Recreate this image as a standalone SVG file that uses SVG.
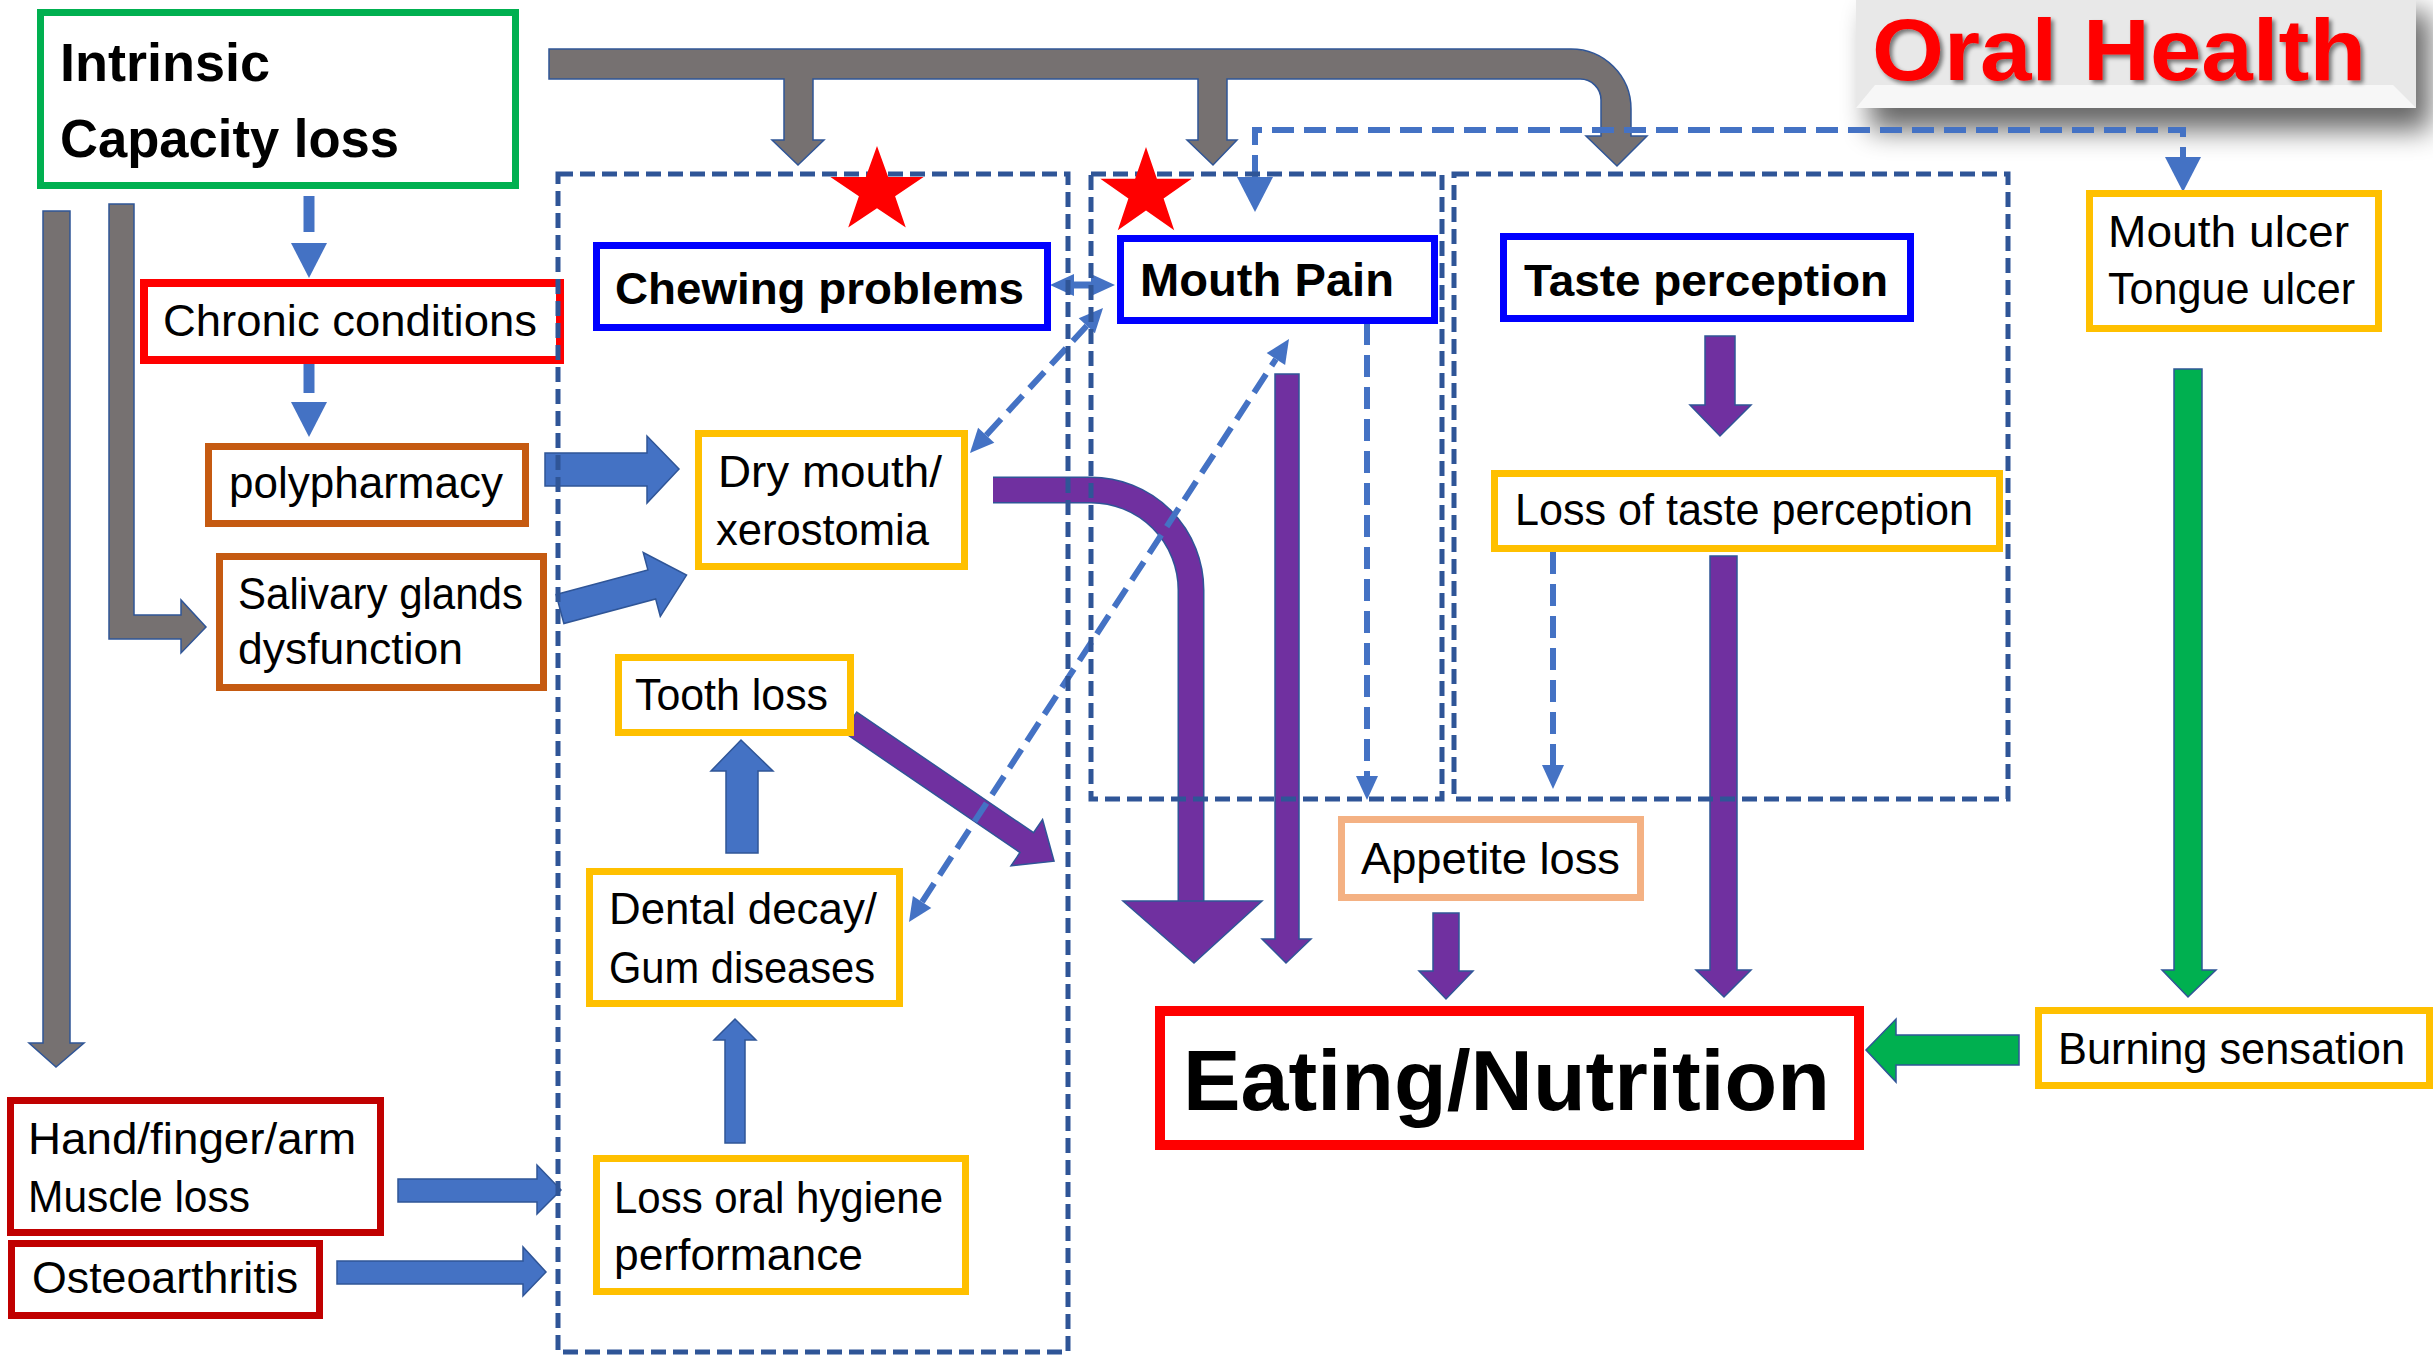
<svg xmlns="http://www.w3.org/2000/svg" width="2433" height="1355" viewBox="0 0 2433 1355">
<style>
text{font-family:"Liberation Sans",Arial,sans-serif;fill:#000;}
.t{font-size:44px;}
.b{font-weight:bold;}
.box{fill:#fff;}
.gray{fill:#767171;stroke:#2F5597;stroke-width:1.5;}
.blue{fill:#4472C4;stroke:#2F5597;stroke-width:1.5;}
.purple{fill:#7030A0;stroke:#2F5597;stroke-width:1.5;}
.green{fill:#00B050;stroke:#2F5597;stroke-width:1.5;}
.dash{fill:none;stroke:#4472C4;stroke-width:6;stroke-dasharray:22 10;}
.grp{fill:none;stroke:#2F5597;stroke-width:5;stroke-dasharray:15 7;}
.star{fill:#FF0000;}
</style>
<defs>
<marker id="dh" viewBox="0 0 24 22" refX="0" refY="11" markerWidth="24" markerHeight="22" markerUnits="userSpaceOnUse" orient="auto-start-reverse" overflow="visible"><path d="M0,0 L24,11 L0,22 Z" fill="#4472C4"/></marker>
<marker id="dhL" viewBox="0 0 35 36" refX="0" refY="18" markerWidth="35" markerHeight="36" markerUnits="userSpaceOnUse" orient="auto-start-reverse" overflow="visible"><path d="M0,0 L35,18 L0,36 Z" fill="#4472C4"/></marker>
<filter id="boxShadow" x="-20%" y="-50%" width="150%" height="250%">
<feGaussianBlur in="SourceAlpha" stdDeviation="14"/>
<feOffset dx="14" dy="22" result="o"/>
<feComponentTransfer><feFuncA type="linear" slope="0.6"/></feComponentTransfer>
<feMerge><feMergeNode/><feMergeNode in="SourceGraphic"/></feMerge>
</filter>
<filter id="txtShadow" x="-5%" y="-20%" width="110%" height="150%">
<feGaussianBlur in="SourceAlpha" stdDeviation="2"/>
<feOffset dx="3" dy="3"/>
<feComponentTransfer><feFuncA type="linear" slope="0.5"/></feComponentTransfer>
<feMerge><feMergeNode/><feMergeNode in="SourceGraphic"/></feMerge>
</filter>
</defs>
<rect width="2433" height="1355" fill="#fff"/>

<g id="title">
<g filter="url(#boxShadow)">
<rect x="1856" y="-10" width="560" height="118" fill="#E8E8E8"/>
</g>
<polygon points="1856,108 2416,108 2393,85 1875,85" fill="#F7F7F7"/>
<text x="1872" y="80" font-size="88" font-weight="bold" style="fill:#FF0000" textLength="494" lengthAdjust="spacingAndGlyphs" filter="url(#txtShadow)">Oral Health</text>
</g>

<g id="connectors">
<path class="gray" d="M549,49 H1571 A60,60 0 0 1 1631,109 V136 H1647 L1617,166 L1586,136 H1601 V100 A21,21 0 0 0 1580,79 H1227 V140 H1237 L1213,165 L1187,140 H1198 V79 H813 V140 H824 L798,165 L772,140 H784 V79 H549 Z"/>
<path class="gray" d="M43,211 H70 V1043 H84 L56,1067 L29,1043 H43 Z"/>
<path class="gray" d="M109,204 H134 V615 H181 V600 L206,627 L181,653 V639 H109 Z"/>
<path class="blue" d="M545,453 H647 V436 L679,469 L647,503 V486 H545 Z"/>
<path class="blue" transform="translate(560,609) rotate(-15)" d="M0,-15 H95 V-33 L131,0 L95,33 V15 H0 Z"/>
<path class="blue" d="M398,1179 H537 V1165 L561,1190 L537,1214 V1202 H398 Z"/>
<path class="blue" d="M337,1261 H523 V1247 L546,1272 L523,1296 V1284 H337 Z"/>
<path class="blue" d="M726,853 V771 H711 L741,740 L773,771 H758 V853 Z"/>
<path class="blue" d="M725,1143 V1040 H714 L735,1019 L756,1040 H745 V1143 Z"/>
<path d="M993,490 H1091 A100,100 0 0 1 1191,590 V902" fill="none" stroke="#2F5597" stroke-width="27"/>
<path d="M993,490 H1091 A100,100 0 0 1 1191,590 V903" fill="none" stroke="#7030A0" stroke-width="24"/>
<path class="purple" d="M1123,901 L1262,901 L1194,963 Z"/>
<path class="purple" d="M1275,374 H1299 V939 H1311 L1286,963 L1262,939 H1275 Z"/>
<path class="purple" d="M1705,336 H1735 V405 H1751 L1720,436 L1690,405 H1705 Z"/>
<path class="purple" d="M1710,556 H1737 V970 H1751 L1724,997 L1696,970 H1710 Z"/>
<path class="purple" d="M1433,913 H1459 V971 H1473 L1446,999 L1419,971 H1433 Z"/>
<path class="purple" transform="translate(850,722) rotate(34.3)" d="M0,-12 H214 V-28 L247,0 L214,28 V12 H0 Z"/>
<path class="green" d="M2174,369 H2202 V970 H2216 L2188,997 L2162,970 H2174 Z"/>
<path class="green" d="M2019,1035 V1065 H1896 V1082 L1866,1050 L1896,1019 V1035 Z"/>
<path d="M309,196 V243" fill="none" stroke="#4472C4" stroke-width="11" stroke-dasharray="36 14" marker-end="url(#dhL)"/>
<path d="M309,357 V402" fill="none" stroke="#4472C4" stroke-width="11" stroke-dasharray="36 14" marker-end="url(#dhL)"/>
<path class="dash" d="M1255,177 V130 H2183 V157" marker-start="url(#dhL)" marker-end="url(#dhL)"/>
<path d="M1074,285 H1091" fill="none" stroke="#4472C4" stroke-width="7" marker-start="url(#dh)" marker-end="url(#dh)"/>
<path class="dash" d="M986.2,435.3 L1086.8,325.7" marker-start="url(#dh)" marker-end="url(#dh)"/>
<path class="dash" d="M922.1,901.9 L1275.9,359.1" marker-start="url(#dh)" marker-end="url(#dh)"/>
<path class="dash" d="M1367,323 V776" marker-end="url(#dh)"/>
<path class="dash" d="M1553,552 V765" marker-end="url(#dh)"/>
</g>

<g id="intrinsic">
<rect class="box" x="40.5" y="12.5" width="475" height="173" stroke="#00B050" stroke-width="7"/>
<text class="b" x="60" y="81" font-size="54" textLength="210" lengthAdjust="spacingAndGlyphs">Intrinsic</text>
<text class="b" x="60" y="157" font-size="53" textLength="339" lengthAdjust="spacingAndGlyphs">Capacity loss</text>
</g>
<g id="chronic">
<rect class="box" x="144" y="283" width="416" height="77" stroke="#FF0000" stroke-width="8"/>
<text class="t" x="163" y="336" textLength="374" lengthAdjust="spacingAndGlyphs">Chronic conditions</text>
</g>
<g id="polypharmacy">
<rect class="box" x="208.5" y="446.5" width="317" height="77" stroke="#C55A11" stroke-width="7"/>
<text class="t" x="229" y="498" textLength="274" lengthAdjust="spacingAndGlyphs">polypharmacy</text>
</g>
<g id="salivary">
<rect class="box" x="219.5" y="556.5" width="324" height="131" stroke="#C55A11" stroke-width="7"/>
<text class="t" x="238" y="609" textLength="285" lengthAdjust="spacingAndGlyphs">Salivary glands</text>
<text class="t" x="238" y="664" textLength="225" lengthAdjust="spacingAndGlyphs">dysfunction</text>
</g>
<g id="hand">
<rect class="box" x="10.5" y="1100.5" width="370" height="132" stroke="#C00000" stroke-width="7"/>
<text class="t" x="28" y="1154" textLength="328" lengthAdjust="spacingAndGlyphs">Hand/finger/arm</text>
<text class="t" x="28" y="1212" textLength="222" lengthAdjust="spacingAndGlyphs">Muscle loss</text>
</g>
<g id="osteo">
<rect class="box" x="11.5" y="1243.5" width="308" height="72" stroke="#C00000" stroke-width="7"/>
<text class="t" x="32" y="1293" textLength="266" lengthAdjust="spacingAndGlyphs">Osteoarthritis</text>
</g>
<g id="chewing">
<rect class="box" x="596.5" y="245.5" width="451" height="82" stroke="#0000FF" stroke-width="7"/>
<text class="t b" x="615" y="304" textLength="409" lengthAdjust="spacingAndGlyphs">Chewing problems</text>
</g>
<g id="mouthpain">
<rect class="box" x="1120.5" y="238.5" width="314" height="82" stroke="#0000FF" stroke-width="7"/>
<text class="b" x="1140" y="296" font-size="46" textLength="254" lengthAdjust="spacingAndGlyphs">Mouth Pain</text>
</g>
<g id="taste">
<rect class="box" x="1503.5" y="236.5" width="407" height="82" stroke="#0000FF" stroke-width="7"/>
<text class="b" x="1524" y="296" font-size="45" textLength="364" lengthAdjust="spacingAndGlyphs">Taste perception</text>
</g>
<g id="ulcer">
<rect class="box" x="2089.5" y="193.5" width="289" height="135" stroke="#FFC000" stroke-width="7"/>
<text class="t" x="2108" y="247" textLength="241" lengthAdjust="spacingAndGlyphs">Mouth ulcer</text>
<text class="t" x="2108" y="304" textLength="247" lengthAdjust="spacingAndGlyphs">Tongue ulcer</text>
</g>
<g id="drymouth">
<rect class="box" x="698.5" y="433.5" width="266" height="133" stroke="#FFC000" stroke-width="7"/>
<text class="t" x="718" y="487" textLength="224" lengthAdjust="spacingAndGlyphs">Dry mouth/</text>
<text class="t" x="716" y="545" textLength="213" lengthAdjust="spacingAndGlyphs">xerostomia</text>
</g>
<g id="losstaste">
<rect class="box" x="1494.5" y="473.5" width="505" height="75" stroke="#FFC000" stroke-width="7"/>
<text class="t" x="1515" y="525" textLength="458" lengthAdjust="spacingAndGlyphs">Loss of taste perception</text>
</g>
<g id="toothloss">
<rect class="box" x="618.5" y="657.5" width="232" height="75" stroke="#FFC000" stroke-width="7"/>
<text class="t" x="635" y="710" textLength="193" lengthAdjust="spacingAndGlyphs">Tooth loss</text>
</g>
<g id="dental">
<rect class="box" x="589.5" y="871.5" width="310" height="132" stroke="#FFC000" stroke-width="7"/>
<text class="t" x="609" y="924" textLength="268" lengthAdjust="spacingAndGlyphs">Dental decay/</text>
<text class="t" x="609" y="983" textLength="266" lengthAdjust="spacingAndGlyphs">Gum diseases</text>
</g>
<g id="hygiene">
<rect class="box" x="596.5" y="1158.5" width="369" height="133" stroke="#FFC000" stroke-width="7"/>
<text class="t" x="614" y="1213" textLength="329" lengthAdjust="spacingAndGlyphs">Loss oral hygiene</text>
<text class="t" x="614" y="1270" textLength="249" lengthAdjust="spacingAndGlyphs">performance</text>
</g>
<g id="appetite">
<rect class="box" x="1341.5" y="819.5" width="299" height="78" stroke="#F4B183" stroke-width="7"/>
<text class="t" x="1361" y="874" textLength="259" lengthAdjust="spacingAndGlyphs">Appetite loss</text>
</g>
<g id="eating">
<rect class="box" x="1160" y="1011" width="699" height="134" stroke="#FF0000" stroke-width="10"/>
<text class="b" x="1183" y="1110" font-size="86" textLength="647" lengthAdjust="spacingAndGlyphs">Eating/Nutrition</text>
</g>
<g id="burning">
<rect class="box" x="2038.5" y="1010.5" width="391" height="75" stroke="#FFC000" stroke-width="7"/>
<text class="t" x="2058" y="1064" textLength="347" lengthAdjust="spacingAndGlyphs">Burning sensation</text>
</g>

<g id="groups">
<rect class="grp" x="558" y="174" width="510" height="1178"/>
<rect class="grp" x="1091" y="174" width="351" height="625"/>
<rect class="grp" x="1454" y="174" width="554" height="625"/>
</g>

<g id="stars">
<polygon class="star" points="877,146 888.2,177.1 923.6,177.1 895.1,196.3 905.8,227.4 877,208.2 848.2,227.4 858.9,196.3 830.4,177.1 865.8,177.1"/>
<polygon class="star" points="1146,147 1156.9,178.8 1191.7,178.8 1163.6,198.4 1174.2,230.2 1146,210.6 1117.8,230.2 1128.4,198.4 1100.3,178.8 1135.1,178.8"/>
</g>
</svg>
